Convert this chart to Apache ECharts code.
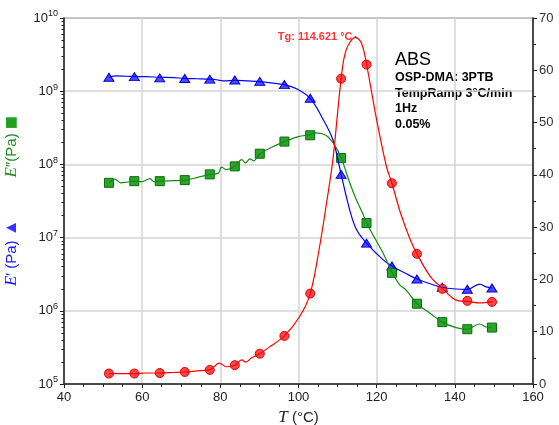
<!DOCTYPE html>
<html>
<head>
<meta charset="utf-8">
<script src="https://cdn.jsdelivr.net/npm/echarts@6/dist/echarts.min.js"></script>
<style>
	html, body { margin: 0; padding: 0; background: #fff; }
	#chart { width: 559px; height: 425px; }
</style>
</head>
<body>
<div id="chart"></div>
<script>
// marker temperatures (shared by the three curves)
var markT = [51.5, 58.0, 64.5, 70.9, 77.3, 83.7, 90.1, 96.4, 103.0, 110.9, 117.4, 123.9, 130.3, 136.8, 143.2, 149.5];
var storageMark = [1.55e9, 1.58e9, 1.52e9, 1.49e9, 1.46e9, 1.42e9, 1.36e9, 1.23e9, 8.0e8, 7.3e7, 8.4e6, 4.1e6, 2.72e6, 2.1e6, 1.97e6, 2.05e6];
var lossMark = [5.6e7, 5.9e7, 5.9e7, 6.1e7, 7.3e7, 9.4e7, 1.4e8, 2.05e8, 2.5e8, 1.22e8, 1.58e7, 3.3e6, 1.25e6, 7.0e5, 5.6e5, 5.9e5];
var tanMark = [2.0, 2.0, 2.1, 2.3, 2.7, 3.6, 5.8, 9.2, 17.3, 58.4, 61.1, 38.4, 24.9, 18.2, 15.9, 15.7];

// line traces
var storageT = [51.5, 53.5, 56, 58, 61, 64.5, 68, 70.9, 74, 77.3, 79.5, 81, 83.7, 87, 90.1, 93, 96.4, 99.5, 103, 105.9, 108.8, 110.9, 113, 114.8, 117.4, 121.6, 123.9, 127.6, 130.3, 134.4, 136.8, 139.5, 143.2, 146.3, 148, 149.5];
var storageV = [1.55e9, 1.62e9, 1.60e9, 1.59e9, 1.58e9, 1.55e9, 1.53e9, 1.50e9, 1.48e9, 1.46e9, 1.42e9, 1.38e9, 1.41e9, 1.38e9, 1.35e9, 1.30e9, 1.23e9, 1.08e9, 8.0e8, 4.5e8, 2.17e8, 7.3e7, 2.5e7, 1.3e7, 8.4e6, 5.0e6, 4.1e6, 3.2e6, 2.72e6, 2.27e6, 2.1e6, 2.0e6, 1.96e6, 2.32e6, 2.12e6, 2.05e6];

var lossT = [51.5, 53, 54.5, 56, 58, 60, 62, 63, 64.5, 68, 70.9, 74, 77.3, 79.5, 80.3, 81.5, 83.7, 85.5, 86.4, 87.6, 88.5, 90.1, 93, 96.4, 100, 103, 104.3, 107, 109.2, 111, 113, 114.8, 116.5, 117.4, 121.6, 124, 125.8, 127.6, 130.3, 133.5, 136.8, 140.3, 143.2, 146.3, 148, 149.5];
var lossV = [5.6e7, 6.3e7, 5.6e7, 5.7e7, 5.9e7, 5.8e7, 6.4e7, 5.8e7, 5.9e7, 6.0e7, 6.1e7, 6.6e7, 7.3e7, 7.6e7, 9.2e7, 8.5e7, 9.4e7, 1.16e8, 1.05e8, 1.19e8, 1.12e8, 1.39e8, 1.7e8, 2.05e8, 2.4e8, 2.55e8, 2.7e8, 2.5e8, 1.85e8, 1.2e8, 5.8e7, 3.3e7, 2.1e7, 1.58e7, 6.2e6, 3.3e6, 2.3e6, 1.9e6, 1.25e6, 9.4e5, 7.0e5, 5.9e5, 5.6e5, 6.6e5, 6.0e5, 5.9e5];

var tanT = [51.5, 55, 58, 61, 64.5, 68, 70.9, 74, 77.3, 79.8, 81.5, 83.7, 85.5, 86.5, 88, 90.1, 93, 96.4, 100.3, 103, 105.4, 107.3, 108.8, 110.9, 112.2, 114.6, 116.1, 117.4, 119.9, 122.5, 123.9, 126.1, 128.6, 130.3, 133.7, 136.8, 139.5, 141, 143.2, 146.3, 149.5];
var tanV = [2.0, 2.0, 2.0, 2.1, 2.1, 2.2, 2.3, 2.5, 2.7, 4.0, 3.3, 3.6, 4.6, 4.2, 5.0, 5.8, 7.3, 9.2, 12.9, 17.3, 26.3, 35.2, 42.9, 58.3, 63.9, 66.3, 65.2, 61.2, 50.9, 41.6, 38.4, 32.7, 27.6, 24.9, 20.6, 18.3, 16.4, 15.9, 15.8, 15.5, 15.7];

var tgPoint = [114.6, 66.3];
var tgText = 'Tg: 114.621 °C';
var infoLines = ['OSP-DMA: 3PTB', 'TempRamp 3°C/min', '1Hz', '0.05%'];

function pairs(xs, ys) {
	var out = [];
	for (var i = 0; i < xs.length; i++) {
		out.push([xs[i], ys[i]]);
	}
	return out;
}

var chart = echarts.init(document.getElementById('chart'));
var font = '"Liberation Sans", Arial, sans-serif';
var serif = '"Liberation Serif", "DejaVu Serif", serif';

var graphics = [{
	type: 'text', left: 395, top: 51,
	style: { text: 'ABS', font: '18px ' + font, fill: '#000' }
}];
for (var i = 0; i < infoLines.length; i++) {
	graphics.push({
		type: 'text', left: 395, top: 71.5 + i * 15.5,
		style: { text: infoLines[i], font: 'bold 12.5px ' + font, fill: '#000' }
	});
}

option = {
	animation: false,
	grid: {
		left: 64, right: 26, top: 18, bottom: 41,
		containLabel: false, outerBoundsMode: 'none',
		show: true, borderColor: '#333', borderWidth: 1
	},
	xAxis: {
		type: 'value', min: 40, max: 160, interval: 20,
		name: '{t|T} (°C)', nameLocation: 'middle', nameGap: 24,
		nameTextStyle: {
			fontFamily: font, fontSize: 15, color: '#222',
			rich: { t: { fontFamily: serif, fontStyle: 'italic', fontSize: 17, color: '#222' } }
		},
		axisLine: { lineStyle: { color: '#222', width: 1.5 } },
		axisTick: { inside: false, length: 4, lineStyle: { color: '#222' } },
		minorTick: { show: true, splitNumber: 4, length: 3, lineStyle: { color: '#222' } },
		axisLabel: { fontFamily: font, fontSize: 13, color: '#222', margin: 7 },
		splitLine: { show: true, lineStyle: { color: '#d4d4d4', width: 1.5 } }
	},
	yAxis: [{
		type: 'log', logBase: 10, min: 1e5, max: 1e10,
		name: '{be|E}{b|\u2032 (Pa) }{bi|\u25B2}{sp| }{ge|E}{g|\u2033(Pa) }{gi|\u25A0}',
		nameLocation: 'middle', nameRotate: 90, nameGap: 30,
		nameTextStyle: {
			rich: {
				be: { fontFamily: serif, fontStyle: 'italic', fontSize: 17, color: '#1a1aff' },
				b: { fontFamily: font, fontSize: 15, color: '#1a1aff' },
				bi: { fontFamily: font, fontSize: 17, color: '#3333ff' },
				sp: { width: 42 },
				ge: { fontFamily: serif, fontStyle: 'italic', fontSize: 17, color: '#1f8f1f' },
				g: { fontFamily: font, fontSize: 15, color: '#1f8f1f' },
				gi: { fontFamily: font, fontSize: 22, color: '#22a022' }
			}
		},
		axisLine: { show: true, lineStyle: { color: '#222', width: 1.5 } },
		axisTick: { inside: false, length: 4, lineStyle: { color: '#222' } },
		minorTick: { show: true, splitNumber: 9, length: 2.5, lineStyle: { color: '#222' } },
		axisLabel: {
			margin: 6,
			formatter: function (v) {
				return '{b|10}{s|' + Math.round(Math.log10(v)) + '}';
			},
			rich: {
				b: { fontFamily: font, fontSize: 13, color: '#222' },
				s: { fontFamily: font, fontSize: 9, color: '#222', padding: [0, 0, 8, 0] }
			}
		},
		splitLine: { show: true, lineStyle: { color: '#d4d4d4', width: 1.5 } }
	}, {
		type: 'value', min: 0, max: 70, interval: 10, position: 'right',
		axisLine: { show: true, lineStyle: { color: '#222', width: 1.5 } },
		axisTick: { show: true, inside: false, length: 4, lineStyle: { color: '#222' } },
		minorTick: { show: true, splitNumber: 2, length: 3, lineStyle: { color: '#222' } },
		axisLabel: { fontFamily: font, fontSize: 13, color: '#333', margin: 6 },
		splitLine: { show: false }
	}],
	graphic: graphics,
	series: [{
		type: 'line', yAxisIndex: 0, data: pairs(storageT, storageV),
		showSymbol: false, smooth: 0.35, lineStyle: { color: '#0000ff', width: 1.2 }
	}, {
		type: 'line', yAxisIndex: 0, data: pairs(lossT, lossV),
		showSymbol: false, smooth: 0.35, lineStyle: { color: '#138a13', width: 1.2 }
	}, {
		type: 'line', yAxisIndex: 1, data: pairs(tanT, tanV),
		showSymbol: false, smooth: 0.35, lineStyle: { color: '#ff0000', width: 1.2 }
	}, {
		type: 'scatter', yAxisIndex: 0, data: pairs(markT, storageMark),
		symbol: 'triangle', symbolSize: [10, 8],
		itemStyle: { color: '#4a4aff', borderColor: '#0000cc', borderWidth: 1, opacity: 1 }
	}, {
		type: 'scatter', yAxisIndex: 0, data: pairs(markT, lossMark),
		symbol: 'rect', symbolSize: 9,
		itemStyle: { color: '#2aa52a', borderColor: '#0a6a0a', borderWidth: 1, opacity: 1 }
	}, {
		type: 'scatter', yAxisIndex: 1, data: pairs(markT, tanMark),
		symbol: 'circle', symbolSize: 9,
		itemStyle: { color: '#ff4545', borderColor: '#dd0000', borderWidth: 1, opacity: 1 }
	}, {
		type: 'scatter', yAxisIndex: 1, data: [tgPoint],
		symbol: 'rect', symbolSize: 2,
		itemStyle: { color: '#000' },
		label: {
			show: true, position: 'left', distance: 2,
			formatter: tgText,
			fontFamily: font, fontSize: 11, fontWeight: 'bold', color: '#ff0000'
		}
	}]
};
chart.setOption(option);
</script>
</body>
</html>
